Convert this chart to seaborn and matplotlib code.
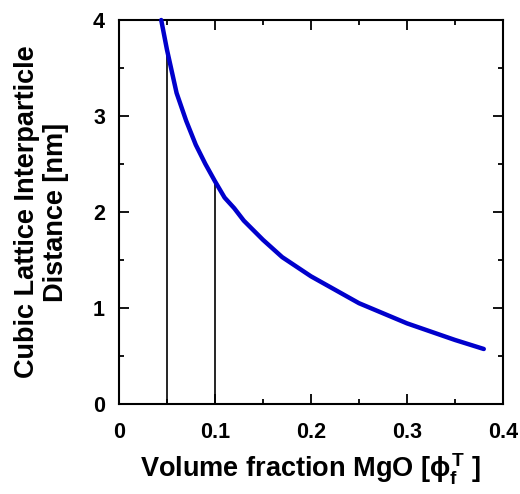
import matplotlib
matplotlib.use("Agg")
import matplotlib.pyplot as plt
import seaborn as sns
import pandas as pd
from matplotlib.ticker import MultipleLocator

# Data
phi = [0.044, 0.05, 0.06, 0.07, 0.08, 0.09, 0.10, 0.11, 0.12, 0.13, 0.14, 0.15,
       0.17, 0.20, 0.25, 0.30, 0.35, 0.38]
dist = [4.00, 3.69, 3.24, 2.95, 2.70, 2.50, 2.32, 2.15, 2.04, 1.91, 1.81, 1.71,
        1.53, 1.33, 1.05, 0.84, 0.667, 0.573]
vline_x = [0.05, 0.10]
vline_top = [3.69, 2.32]
xticks = [0, 0.1, 0.2, 0.3, 0.4]
xticklabels = ["0", "0.1", "0.2", "0.3", "0.4"]
yticks = [0, 1, 2, 3, 4]
yticklabels = ["0", "1", "2", "3", "4"]

sns.set_style("ticks")
plt.rcParams['font.family'] = ['Liberation Sans', 'DejaVu Sans']
plt.rcParams['mathtext.fontset'] = 'custom'
plt.rcParams['mathtext.rm'] = 'Liberation Sans:bold'
plt.rcParams['mathtext.it'] = 'Liberation Sans:bold'
plt.rcParams['mathtext.bf'] = 'Liberation Sans:bold'
plt.rcParams['text.color'] = 'black'
plt.rcParams['axes.labelcolor'] = 'black'
plt.rcParams['xtick.color'] = 'black'
plt.rcParams['ytick.color'] = 'black'

df = pd.DataFrame({"phi": phi, "dist": dist})

fig = plt.figure(figsize=(5.2, 4.94), dpi=100)
ax = fig.add_axes([0.2288, 0.1822, 0.7385, 0.7773])

ax.vlines(vline_x, 0, vline_top, colors="black", linewidth=1.2, zorder=2)
sns.lineplot(data=df, x="phi", y="dist", ax=ax, color="#0000CC", linewidth=3.2,
             zorder=3, clip_on=False)

ax.set_xlim(0, 0.4)
ax.set_ylim(0, 4)
ax.set_xticks(xticks)
ax.set_xticklabels(xticklabels)
ax.set_yticks(yticks)
ax.set_yticklabels(yticklabels)
ax.xaxis.set_minor_locator(MultipleLocator(0.05))
ax.yaxis.set_minor_locator(MultipleLocator(0.5))
ax.tick_params(which="both", direction="in", top=True, right=True, width=1.3,
               color="black", labelcolor="black")
ax.tick_params(which="major", length=7, labelsize=15.5)
ax.tick_params(axis="x", which="major", pad=13)
ax.tick_params(axis="y", which="major", pad=10)
ax.tick_params(which="minor", length=3.5)
for lab in ax.get_xticklabels() + ax.get_yticklabels():
    lab.set_fontweight("bold")
for s in ax.spines.values():
    s.set_linewidth(1.5)
    s.set_color("black")

ax.set_xlabel(r"Volume fraction MgO [$\phi_f^T$ ]", fontsize=19.5, fontweight="bold",
              labelpad=6, color="black")
ax.set_ylabel("Cubic Lattice Interparticle\nDistance [nm]", fontsize=19.5,
              fontweight="bold", labelpad=17, linespacing=1.15, color="black")

fig.savefig("out.png", dpi=100)
